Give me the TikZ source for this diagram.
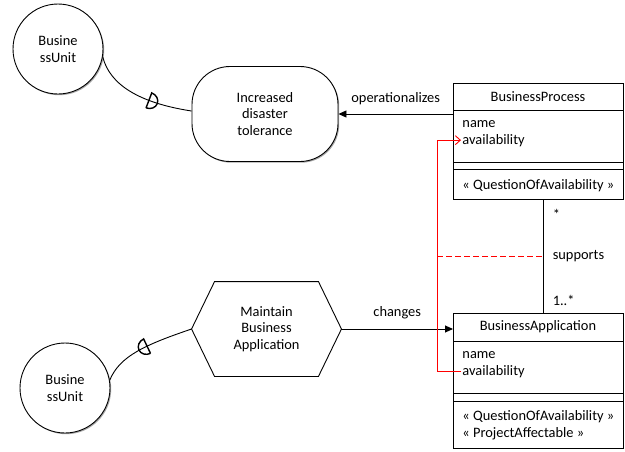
\documentclass[tikz,border=0pt]{standalone}
\usepackage{fontspec}
\setmainfont{Carlito}
\usetikzlibrary{positioning,arrows.meta,shadows,decorations.markings}

\begin{document}
\begin{tikzpicture}[x=1pt,y=-1pt,line width=0.9pt,
  font=\fontsize{14.4}{16.5}\selectfont,
  shade/.style={drop shadow={shadow xshift=1.2pt,shadow yshift=-1.2pt,opacity=0.35,fill=black}},
  actor/.style={circle,draw,fill=white,minimum size=90pt,inner sep=0pt,align=center,shade},
  part/.style={rectangle,draw,fill=white,minimum width=170pt,inner sep=0pt,outer sep=0pt,shade},
  attr/.style={anchor=base west,inner sep=1pt},
  mult/.style={anchor=west},
  tip/.style={-{Triangle[length=8pt,width=7pt]}},
  trace/.style={red,line width=0.9pt},
  dep/.style 2 args={postaction={decorate},decoration={markings,
    mark=at position #1 with {\draw[line width=1.4pt] (0,-8pt) -- (0,8pt)
      arc[start angle=90,end angle=#2,x radius=9pt,y radius=8pt];}}}]

\useasboundingbox (0,0) rectangle (625,451);

\node[actor] (unitA) at (58,49) {Busine\\ssUnit};
\node[actor] (unitB) at (65,388) {Busine\\ssUnit};

\node[draw,fill=white,rounded corners=38pt,minimum width=146pt,minimum height=95pt,align=center,shade]
  (goal) at (265,114) {Increased\\disaster\\tolerance};

\node[minimum width=103pt,minimum height=94pt,align=center] (task) at (266.5,329) {Maintain\\Business\\Application};
\coordinate (taskL) at ([xshift=-23pt]task.west);
\coordinate (taskR) at ([xshift=23pt]task.east);
\draw (task.north west) -- (task.north east) -- (taskR) -- (task.south east)
      -- (task.south west) -- (taskL) -- cycle;

\node[part,minimum height=27pt] (bpHead) at (538,96.5) {BusinessProcess};
\node[part,minimum height=52pt,below=0pt of bpHead] (bpAttr) {};
\node[part,minimum height=7pt,below=0pt of bpAttr] (bpOps) {};
\node[part,minimum height=30pt,below=0pt of bpOps] (bpStereo) {};
\node[attr] (bpName) at ([xshift=8pt,yshift=-17pt]bpAttr.north west) {name};
\node[attr] (bpAvail) at ([xshift=8pt,yshift=-34pt]bpAttr.north west) {availability};
\node[attr] (bpQoa) at ([xshift=8pt,yshift=-20pt]bpStereo.north west) {«~QuestionOfAvailability~»};

\node[part,minimum height=28pt] (baHead) at (538,327) {BusinessApplication};
\node[part,minimum height=52pt,below=0pt of baHead] (baAttr) {};
\node[part,minimum height=8pt,below=0pt of baAttr] (baOps) {};
\node[part,minimum height=47pt,below=0pt of baOps] (baStereo) {};
\node[attr] (baName) at ([xshift=8pt,yshift=-17.5pt]baAttr.north west) {name};
\node[attr] (baAvail) at ([xshift=8pt,yshift=-34.5pt]baAttr.north west) {availability};
\node[attr] (baQoa) at ([xshift=8pt,yshift=-19pt]baStereo.north west) {«~QuestionOfAvailability~»};
\node[attr] (baProj) at ([xshift=8pt,yshift=-36pt]baStereo.north west) {«~ProjectAffectable~»};

\draw[dep={0.6}{-90}] (unitA.-10) .. controls +(7,28) and +(-52,-8) .. ([yshift=3pt]goal.west);
\draw[dep={0.52}{270}] (unitB.10) .. controls +(10,-24) and +(-47,16) .. (taskL);

\draw[tip] (goal.east -| bpAttr.west) -- (goal.east) node[midway,above=5pt] (opLabel) {operationalizes};
\draw[tip] (taskR) -- (taskR -| baHead.west) node[midway,above=6pt] (chLabel) {changes};

\coordinate (assoc) at (543,256);
\draw (assoc |- bpStereo.south) -- (assoc |- baHead.north);
\node[mult] (multTop) at (549,214) {*};
\node[mult] (suppLabel) at (549,256) {supports};
\node[mult] (multBot) at (549,300) {1..*};

\coordinate (traceX) at (437,256);
\draw[trace,dash pattern=on 6pt off 3pt] (traceX) -- (assoc);
\draw[trace,-{Straight Barb[length=5pt,width=9pt]}] (baAvail.west) -- (baAvail.west -| traceX)
  -- (bpAvail.west -| traceX) -- (bpAvail.west);

\end{tikzpicture}
\end{document}
